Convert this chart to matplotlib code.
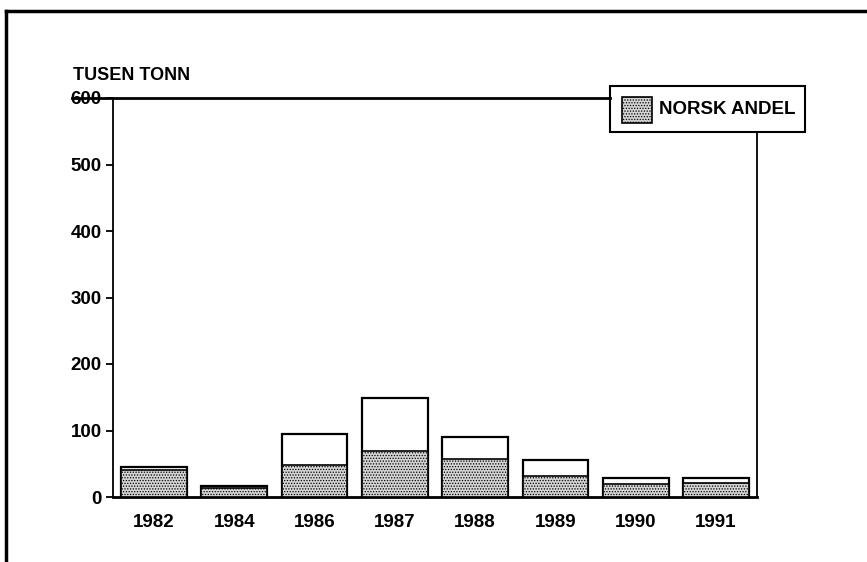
import numpy as np
import matplotlib.pyplot as plt
from matplotlib.lines import Line2D
from matplotlib.patches import Rectangle

plt.rcParams['font.family'] = ['Liberation Sans', 'DejaVu Sans']
plt.rcParams['font.weight'] = 'bold'
plt.rcParams['hatch.color'] = '#6e6e6e'
plt.rcParams['hatch.linewidth'] = 0.6

years = ['1982', '1984', '1986', '1987', '1988', '1989', '1990', '1991']
totalt = [45, 16, 95, 149, 90, 55, 28, 29]
norsk = [40, 14, 48, 69, 57, 31, 20, 21]

W, H = 867, 562
fig = plt.figure(figsize=(W / 100, H / 100), dpi=100)
ax = fig.add_axes([113 / W, 65 / H, 644 / W, 399 / H])

x = np.arange(len(years))
ax.bar(x, totalt, width=0.82, color='white', edgecolor='black', linewidth=1.6, zorder=2)
ax.bar(x, norsk, width=0.82, color='#d4d4d4', edgecolor='black', linewidth=1.2,
       hatch='......', zorder=3)

ax.set_xlim(-0.51, 7.51)
ax.set_ylim(0, 600)
ax.set_xticks(x)
ax.set_xticklabels(years, fontsize=13.5)
ax.set_yticks([0, 100, 200, 300, 400, 500, 600])
ax.tick_params(axis='x', length=0, pad=12)
ax.tick_params(axis='y', length=5, width=1.3, pad=3, labelsize=13.5)

ax.spines['top'].set_visible(False)
ax.spines['left'].set_linewidth(1.3)
ax.spines['bottom'].set_linewidth(2)
ax.spines['right'].set_linewidth(1.3)
ax.spines['right'].set_bounds(0, 549)

def fx(px):
    return px / W

def fy(py):
    return 1 - py / H

# top line running through the 600 label up to the legend box
fig.add_artist(Line2D([fx(72), fx(610)], [fy(98), fy(98)], color='black', linewidth=2))

fig.text(fx(73), fy(75), 'TUSEN TONN', fontsize=13, va='center', ha='left')

# legend box
fig.add_artist(Rectangle((fx(610), fy(132)), fx(195), 46 / H, transform=fig.transFigure,
                         facecolor='white', edgecolor='black', linewidth=1.5))
fig.add_artist(Rectangle((fx(622), fy(123)), fx(30), 26 / H, transform=fig.transFigure,
                         facecolor='#d4d4d4', edgecolor='black', linewidth=1.2,
                         hatch='......'))
fig.text(fx(659), fy(110), 'NORSK ANDEL', fontsize=13.5, va='center', ha='left')

# outer frame (top and left)
fig.add_artist(Line2D([fx(6), 1], [fy(11), fy(11)], color='black', linewidth=2.5))
fig.add_artist(Line2D([fx(6), fx(6)], [0, fy(11)], color='black', linewidth=2.5))

fig.savefig('out.png', dpi=100)
